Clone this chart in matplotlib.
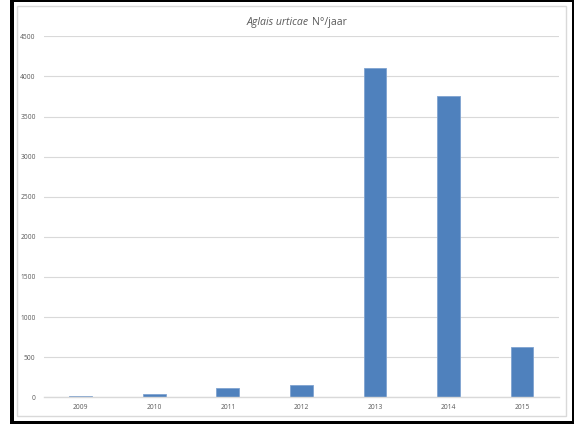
import matplotlib
matplotlib.use("Agg")
import matplotlib.pyplot as plt
from matplotlib.patches import Rectangle

years = ["2009", "2010", "2011", "2012", "2013", "2014", "2015"]
counts = [20, 42, 115, 155, 4110, 3750, 630]
yticks = [0, 500, 1000, 1500, 2000, 2500, 3000, 3500, 4000, 4500]

W, H = 579, 424
fig = plt.figure(figsize=(W / 100, H / 100), dpi=100)
fig.patch.set_facecolor("white")

def fx(px):
    return px / W

def fy(py):
    return 1 - py / H

# outer black frame
fig.patches.append(Rectangle((fx(10), fy(424)), fx(564), 424 / H, transform=fig.transFigure,
                             facecolor="black", edgecolor="none", zorder=0))
fig.patches.append(Rectangle((fx(14), fy(421)), fx(558), (421 - 2) / H, transform=fig.transFigure,
                             facecolor="white", edgecolor="none", zorder=0.5))
# inner light gray chart border
fig.patches.append(Rectangle((fx(17), fy(416)), fx(549), (416 - 6) / H, transform=fig.transFigure,
                             facecolor="white", edgecolor="#d9d9d9", linewidth=1.0, zorder=0.6))

ax = fig.add_axes([fx(44), fy(397.3), fx(558.8 - 44), (397.3 - 36.3) / H])
ax.set_facecolor("none")
ax.set_zorder(2)

x = list(range(len(years)))
ax.bar(x, counts, width=0.31, color="#4F81BD", edgecolor="#7fa3d0", linewidth=0.6, zorder=3)

ax.set_xlim(-0.5, len(years) - 0.5)
ax.set_ylim(0, 4500)
ax.set_yticks(yticks)
ax.set_yticklabels([str(v) for v in yticks])
ax.set_xticks(x)
ax.set_xticklabels(years)

for s in ["top", "right", "left"]:
    ax.spines[s].set_visible(False)
ax.spines["bottom"].set_color("#d9d9d9")
ax.spines["bottom"].set_linewidth(1.0)
ax.spines["bottom"].set_zorder(4)

ax.yaxis.grid(True, color="#d9d9d9", linewidth=0.8, zorder=0)
ax.set_axisbelow(True)
ax.tick_params(axis="both", length=0, labelsize=4.8, colors="#595959", labelcolor="#595959")
ax.tick_params(axis="y", pad=6)
ax.tick_params(axis="x", pad=5)
for lab in ax.get_xticklabels() + ax.get_yticklabels():
    lab.set_fontfamily("Open Sans")

# title: italic species name + normal suffix
t1 = fig.text(fx(247), fy(23), "Aglais urticae", fontsize=7.6, fontstyle="italic",
              color="#595959", family="Open Sans", ha="left", va="center")
fig.canvas.draw()
bb = t1.get_window_extent()
fig.text(bb.x1 / W + fx(2.5), fy(23), "N°/jaar", fontsize=7.6, color="#595959",
         family="Open Sans", ha="left", va="center")

fig.savefig("out.png", dpi=100, facecolor="white")
